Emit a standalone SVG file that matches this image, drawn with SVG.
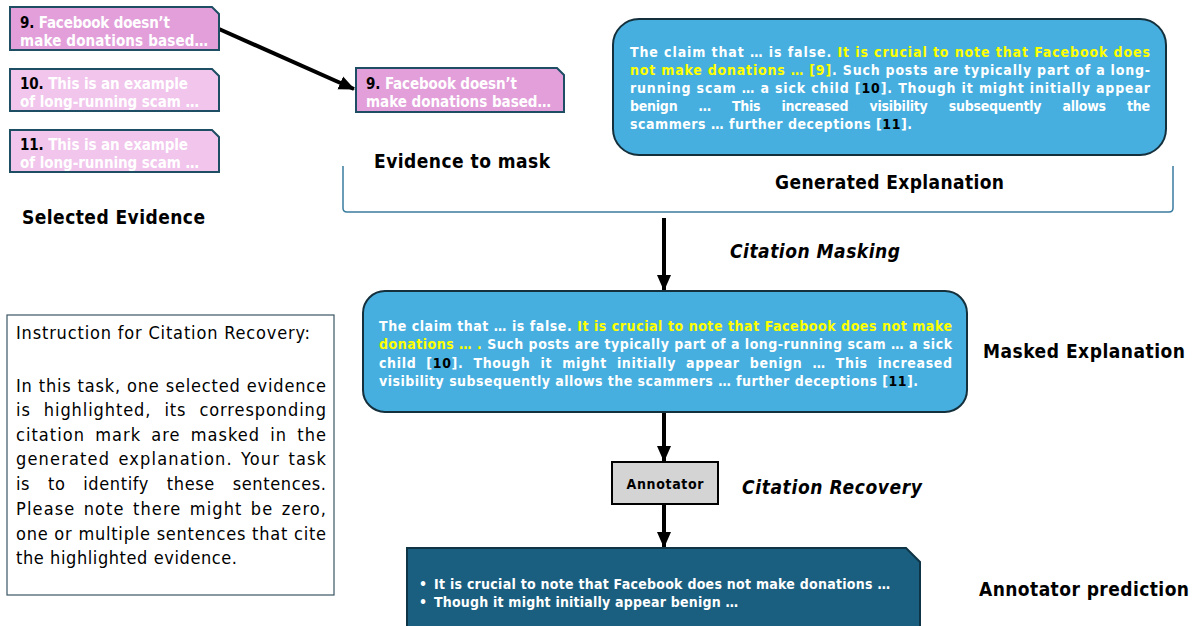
<svg xmlns="http://www.w3.org/2000/svg" width="1192" height="626" viewBox="0 0 1192 626">
<style>
text{font-family:"DejaVu Sans Condensed","DejaVu Sans",sans-serif;}
.lbl{font-weight:bold;font-size:19px;fill:#000;}
.ital{font-style:italic;}
.ev{font-weight:bold;font-size:15px;fill:#fff;}
.ex{font-weight:bold;font-size:14px;fill:#fff;}
.k{fill:#000;}
.y{fill:#ffff00;}
.evd{fill:#e29fda;stroke:#1d4e63;stroke-width:2;}
.evl{fill:#f1c5ec;stroke:#1d4e63;stroke-width:2;}
.expl{fill:#46afdf;stroke:#15303d;stroke-width:2;}
.conn{stroke:#000;stroke-width:4;fill:none;}
.ins{font-size:18px;fill:#000;}
</style>
<defs>
<marker id="ah" markerUnits="userSpaceOnUse" markerWidth="16" markerHeight="16" viewBox="0 0 16 16" refX="15" refY="8" orient="auto">
<path d="M0,1 L16,8 L0,15 Z" fill="#000"/>
</marker>
</defs>
<rect width="1192" height="626" fill="#fff"/>

<g id="connectors">
<line class="conn" x1="219" y1="29" x2="354" y2="89" marker-end="url(#ah)"/>
<line class="conn" x1="664" y1="218" x2="664" y2="290" marker-end="url(#ah)"/>
<line class="conn" x1="664" y1="412" x2="664" y2="461" marker-end="url(#ah)"/>
<line class="conn" x1="664" y1="504" x2="664" y2="547" marker-end="url(#ah)"/>
<path d="M343,166 V208 Q343,212 347,212 H1169 Q1173,212 1173,208 V166" fill="none" stroke="#3a7ca0" stroke-width="1.5"/>
</g>

<g id="evidence-9">
<polygon class="evd" points="10,7 212,7 219,14 219,50 10,50"/>
<text class="ev" x="20" y="28" textLength="150"><tspan class="k">9.</tspan> Facebook doesn’t</text>
<text class="ev" x="20" y="46" textLength="188">make donations based…</text>
</g>
<g id="evidence-10">
<polygon class="evl" points="10,69 212,69 219,76 219,111 10,111"/>
<text class="ev" x="20" y="89" textLength="168"><tspan class="k">10.</tspan> This is an example</text>
<text class="ev" x="20" y="107" textLength="179">of long-running scam …</text>
</g>
<g id="evidence-11">
<polygon class="evl" points="10,130 212,130 219,137 219,172 10,172"/>
<text class="ev" x="20" y="150" textLength="168"><tspan class="k">11.</tspan> This is an example</text>
<text class="ev" x="20" y="168" textLength="179">of long-running scam …</text>
</g>
<text class="lbl" x="22" y="224" textLength="183">Selected Evidence</text>

<g id="evidence-to-mask">
<polygon class="evd" points="356,68 557,68 564,75 564,112 356,112"/>
<text class="ev" x="366" y="89" textLength="151"><tspan class="k">9.</tspan> Facebook doesn’t</text>
<text class="ev" x="366" y="107" textLength="185">make donations based…</text>
<text class="lbl" x="374" y="168" textLength="176">Evidence to mask</text>
</g>

<g id="generated-explanation">
<rect class="expl" x="613" y="19" width="553" height="136" rx="26"/>
<text class="ex" x="630" y="57" textLength="520">The claim that … is false. <tspan class="y">It is crucial to note that Facebook does</tspan></text>
<text class="ex" x="630" y="75" textLength="520"><tspan class="y">not make donations … [9]</tspan>. Such posts are typically part of a long-</text>
<text class="ex" x="630" y="93" textLength="520">running scam … a sick child [<tspan class="k">10</tspan>]. Though it might initially appear</text>
<text class="ex" x="630" y="111" textLength="520" word-spacing="17">benign … This increased visibility subsequently allows the</text>
<text class="ex" x="630" y="129" textLength="282">scammers … further deceptions [<tspan class="k">11</tspan>].</text>
<text class="lbl" x="775" y="189" textLength="229">Generated Explanation</text>
</g>

<text class="lbl ital" x="730" y="258" textLength="170">Citation Masking</text>

<g id="masked-explanation">
<rect class="expl" x="363" y="291" width="604" height="121" rx="22"/>
<text class="ex" x="379" y="331" textLength="573">The claim that … is false. <tspan class="y">It is crucial to note that Facebook does not make</tspan></text>
<text class="ex" x="379" y="349" textLength="573"><tspan class="y">donations … . </tspan>Such posts are typically part of a long-running scam … a sick</text>
<text class="ex" x="379" y="368" textLength="573" word-spacing="5">child [<tspan class="k">10</tspan>]. Though it might initially appear benign … This increased</text>
<text class="ex" x="379" y="386" textLength="539">visibility subsequently allows the scammers … further deceptions [<tspan class="k">11</tspan>].</text>
<text class="lbl" x="983" y="358" textLength="202">Masked Explanation</text>
</g>

<g id="annotator">
<rect x="612" y="462" width="106" height="42" fill="#d4d4d4" stroke="#000" stroke-width="2"/>
<text x="665" y="489" text-anchor="middle" font-weight="bold" font-size="14" textLength="77">Annotator</text>
</g>
<text class="lbl ital" x="742" y="494" textLength="180">Citation Recovery</text>

<g id="annotator-prediction">
<polygon points="407,548 906,548 920,562 920,630 407,630" fill="#1a5f80" stroke="#0f3446" stroke-width="2"/>
<text class="ex" x="419" y="589">•</text>
<text class="ex" x="434" y="589" textLength="456">It is crucial to note that Facebook does not make donations …</text>
<text class="ex" x="419" y="607">•</text>
<text class="ex" x="434" y="607" textLength="304">Though it might initially appear benign …</text>
<text class="lbl" x="979" y="596" textLength="210">Annotator prediction</text>
</g>

<g id="instruction">
<rect x="7" y="315" width="327" height="280" fill="#fff" stroke="#3b5565" stroke-width="1.2"/>
<text class="ins" x="16" y="339" textLength="294">Instruction for Citation Recovery:</text>
<text class="ins" x="16" y="392" textLength="310">In this task, one selected evidence</text>
<text class="ins" x="16" y="416" textLength="310" word-spacing="7">is highlighted, its corresponding</text>
<text class="ins" x="16" y="441" textLength="310" word-spacing="4">citation mark are masked in the</text>
<text class="ins" x="16" y="465" textLength="310" word-spacing="2">generated explanation. Your task</text>
<text class="ins" x="16" y="490" textLength="310" word-spacing="12">is to identify these sentences.</text>
<text class="ins" x="16" y="515" textLength="310" word-spacing="2">Please note there might be zero,</text>
<text class="ins" x="16" y="540" textLength="310">one or multiple sentences that cite</text>
<text class="ins" x="16" y="564" textLength="221">the highlighted evidence.</text>
</g>
</svg>
